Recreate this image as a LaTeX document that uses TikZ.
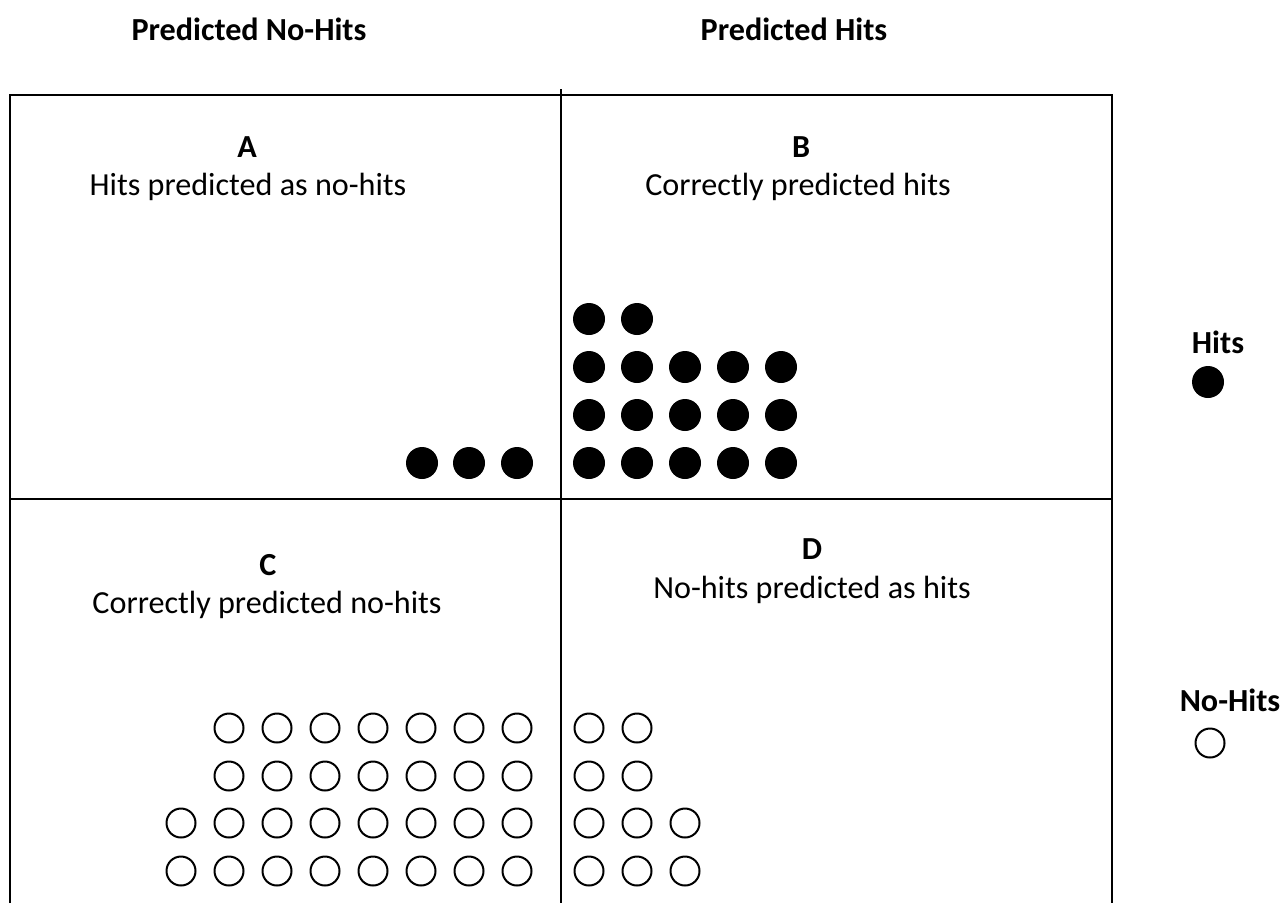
\documentclass[tikz,border=0pt]{standalone}
\usepackage{fontspec}
\setmainfont{Carlito}
\usepackage{tikz}

\begin{document}
\begin{tikzpicture}[x=0.02cm, y=-0.02cm]

% Stili
\tikzset{
  frameLine/.style={draw=black, line width=0.04cm},
  hitDot/.style={circle, fill=black, inner sep=0pt, minimum size=0.64cm},
  noHitDot/.style={circle, draw=black, line width=0.04cm, inner sep=0pt, minimum size=0.58cm},
  txt/.style={font=\fontsize{18.3}{22}\selectfont},
  bold/.style={font=\fontsize{18.3}{22}\selectfont\bfseries}
}

\useasboundingbox (0,0) rectangle (1283,903);

% Intestazioni
\node[bold] (predNo) at (249,29) {Predicted No-Hits};
\node[bold] (predYes) at (794,29) {Predicted Hits};

% Griglia
\draw[frameLine] (10,903) -- (10,95) -- (1112,95) -- (1112,903);
\draw[frameLine] (561,89) -- (561,903);
\draw[frameLine] (10,499) -- (1112,499);

% Quadranti
\node[bold] (letA) at (247,147) {A};
\node[txt] (txtA) at (248,187) {Hits predicted as no-hits};
\node[bold] (letB) at (801,147) {B};
\node[txt] (txtB) at (798,187) {Correctly predicted hits};
\node[bold] (letC) at (268,565) {C};
\node[txt] (txtC) at (267,605) {Correctly predicted no-hits};
\node[bold] (letD) at (812,549) {D};
\node[txt] (txtD) at (812,590) {No-hits predicted as hits};

% Hits (pieni)
\foreach \x [count=\i] in {422,469,517}
  \node[hitDot] (a-\i) at (\x,463) {};
\foreach \x [count=\i] in {589,637}
  \node[hitDot] (b1-\i) at (\x,319) {};
\foreach \y [count=\j] in {367,415,463}
  \foreach \x [count=\i] in {589,637,685,733,781}
    \node[hitDot] (b\j-\i) at (\x,\y) {};

% No-hits (vuoti)
\foreach \y [count=\j] in {728,776}
  \foreach \x [count=\i] in {229,277,325,373,421,469,517}
    \node[noHitDot] (c\j-\i) at (\x,\y) {};
\foreach \y [count=\j] in {823,871}
  \foreach \x [count=\i] in {181,229,277,325,373,421,469,517}
    \node[noHitDot] (cc\j-\i) at (\x,\y) {};
\foreach \y [count=\j] in {728,776}
  \foreach \x [count=\i] in {589,637}
    \node[noHitDot] (d\j-\i) at (\x,\y) {};
\foreach \y [count=\j] in {823,871}
  \foreach \x [count=\i] in {589,637,685}
    \node[noHitDot] (dd\j-\i) at (\x,\y) {};

% Legenda
\node[bold] (legHit) at (1218,342) {Hits};
\node[hitDot] (legHitDot) at (1208,382) {};
\node[bold] (legNo) at (1230,700) {No-Hits};
\node[noHitDot] (legNoDot) at (1210,743) {};

\end{tikzpicture}
\end{document}
